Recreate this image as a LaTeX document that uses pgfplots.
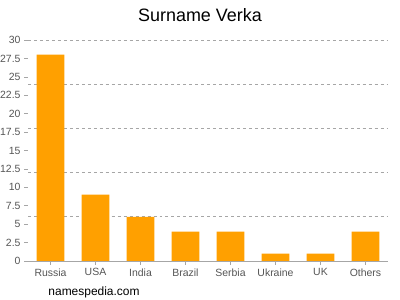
\documentclass[border=0pt]{standalone}
\usepackage{fontspec}
\setmainfont{Liberation Sans}
\usepackage{pgfplots}
\pgfplotsset{compat=1.18}
\definecolor{barc}{HTML}{FFA000}
\definecolor{tickc}{HTML}{555555}
\begin{document}
\begin{tikzpicture}[x=1bp,y=1bp]
\useasboundingbox (0,0) rectangle (400,300);
\begin{axis}[
  at={(28bp,39bp)}, anchor=south west,
  width=360bp, height=221bp, scale only axis,
  xmin=-0.5, xmax=7.5, ymin=0, ymax=30,
  axis x line*=bottom, axis y line*=left,
  y axis line style={draw=none},
  x axis line style={draw=gray!70, line width=0.8pt},
  xtick=data,
  xticklabels={Russia,USA,India,Brazil,Serbia,Ukraine,UK,Others},
  ytick={0,2.5,...,30},
  /pgf/number format/assume math mode=true,
  /pgf/number format/fixed,
  yticklabel style={/pgf/number format/fixed, font=\fontsize{10.5}{12}\selectfont, text=tickc},
  xticklabel style={font=\fontsize{10.5}{12}\selectfont, text=tickc},
  tick style={draw=gray!70, line width=0.6pt},
  major tick length=4bp,
  tick align=outside,
  extra y ticks={6,12,18,24,30},
  extra y tick labels={},
  extra y tick style={grid=major, major tick length=0pt},
  major grid style={dashed, draw=gray!70, line width=0.6pt},
  ymajorgrids=false,
  clip=false,
]
\addplot[ybar, bar width=0.62, fill=barc, draw=none] coordinates {
 (0,28) (1,9) (2,6) (3,4) (4,4) (5,1) (6,1) (7,4)
};
\end{axis}
\node at (200,285) {\fontsize{18}{21}\selectfont Surname Verka};
\node at (94,8) {\fontsize{12}{14}\selectfont namespedia.com};
\end{tikzpicture}
\end{document}
